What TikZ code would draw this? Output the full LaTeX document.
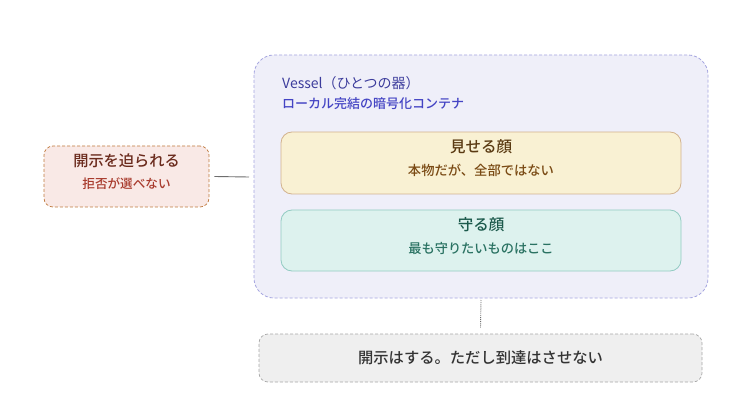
\documentclass[tikz,border=0pt]{standalone}
\usepackage{fontspec}
\setmainfont{Noto Sans CJK JP}
\newfontfamily\jpbold{Noto Sans CJK JP Medium}
\begin{document}
\begin{tikzpicture}[x=1pt,y=-1pt,
  vessel/.style={draw=vesselline,fill=vesselfill,densely dashed,line width=0.8pt,rounded corners=20pt},
  facebox/.style={line width=0.8pt,rounded corners=11pt},
  conn/.style={draw=connline,line width=0.9pt},
  ]
\definecolor{vesselfill}{HTML}{EFEFF9}
\definecolor{vesselline}{HTML}{A6A6E0}
\definecolor{yfill}{HTML}{F9F1D3}
\definecolor{yline}{HTML}{D2B28E}
\definecolor{tfill}{HTML}{DDF2EE}
\definecolor{tline}{HTML}{92CBC2}
\definecolor{pfill}{HTML}{F9E9E6}
\definecolor{pline}{HTML}{C07A3E}
\definecolor{gfill}{HTML}{EFEFEF}
\definecolor{gline}{HTML}{A8A8A8}
\definecolor{connline}{HTML}{6E6E6E}
\useasboundingbox (0,0) rectangle (752,398);
\fill[white] (0,0) rectangle (752,398);
% vessel
\path[vessel] (254,55) rectangle (708,298);
\coordinate (vesselL) at (249,177);
\coordinate (vesselB) at (481,300);
\node[anchor=west,inner sep=0pt] (vt) at (282,83) {\color[HTML]{3C3C9C}\fontsize{14}{16}\selectfont Vessel（ひとつの器）};
\node[anchor=west,inner sep=0pt] (vs) at (282,104) {\color[HTML]{4444C4}\jpbold\fontsize{13}{15}\selectfont ローカル完結の暗号化コンテナ};
% show face
\path[facebox,draw=yline,fill=yfill] (281,132) rectangle (681,194);
\node[inner sep=0pt] (yt) at (481,147) {\color[HTML]{5A3A12}\jpbold\fontsize{15.5}{17}\selectfont 見せる顔};
\node[inner sep=0pt] (ys) at (481,170) {\color[HTML]{7A4A14}\jpbold\fontsize{13.3}{15}\selectfont 本物だが、全部ではない};
% protect face
\path[facebox,draw=tline,fill=tfill] (281,210) rectangle (681,271);
\node[inner sep=0pt] (tt) at (481,225) {\color[HTML]{1C5A4C}\jpbold\fontsize{15.5}{17}\selectfont 守る顔};
\node[inner sep=0pt] (ts) at (481,248) {\color[HTML]{2A7262}\jpbold\fontsize{13.2}{15}\selectfont 最も守りたいものはここ};
% left box
\node[draw=pline,fill=pfill,densely dashed,line width=0.7pt,rounded corners=9pt,minimum width=165pt,minimum height=61pt,inner sep=0pt] (press) at (126.5,176.5) {};
\node[inner sep=0pt] (pt) at (126.5,161) {\color[HTML]{6A2A1C}\jpbold\fontsize{15.2}{17}\selectfont 開示を迫られる};
\node[inner sep=0pt] (ps) at (126.5,184) {\color[HTML]{A83A2C}\jpbold\fontsize{12.6}{14}\selectfont 拒否が選べない};
\draw[conn] ([xshift=5pt]press.east) -- (vesselL);
% bottom box
\node[draw=gline,fill=gfill,densely dashed,line width=0.7pt,rounded corners=9pt,minimum width=443pt,minimum height=48pt,inner sep=0pt] (disc) at (480.5,358) {\color[HTML]{333333}\jpbold\fontsize{15.3}{17}\selectfont 開示はする。ただし到達はさせない};
\draw[conn,densely dotted,line width=0.9pt] (vesselB) -- ([yshift=6pt]disc.north);
\end{tikzpicture}
\end{document}
